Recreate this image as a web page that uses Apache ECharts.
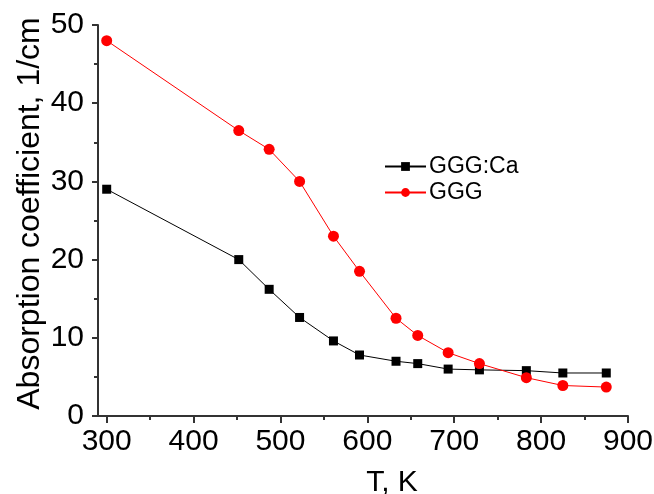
<!DOCTYPE html>
<html>
<head>
<meta charset="utf-8">
<script src="https://cdn.jsdelivr.net/npm/echarts@6/dist/echarts.min.js"></script>
<style>
  html, body { margin: 0; padding: 0; background: #fff; }
  #chart { width: 654px; height: 494px; }
</style>
</head>
<body>
<div id="chart"></div>
<script>
// temperature, K
const temps = [300, 452, 487, 522, 561, 591, 633, 658, 693, 729, 783, 825, 875];
// absorption coefficient, 1/cm
const gggCa = [29.0, 20.0, 16.2, 12.6, 9.6, 7.8, 7.0, 6.7, 6.0, 5.9, 5.8, 5.5, 5.5];
const ggg = [48.0, 36.5, 34.1, 30.0, 23.0, 18.5, 12.5, 10.3, 8.1, 6.7, 4.9, 3.9, 3.7];

const xTicks = [300, 400, 500, 600, 700, 800, 900];
const xMinorTicks = [350, 450, 550, 650, 750, 850];

const font = "Liberation Sans, Arial, sans-serif";
const axisColor = "#333";

const option = {
  backgroundColor: "#fff",
  animation: false,
  textStyle: { fontFamily: font },
  grid: { left: 98, right: 26, top: 25, bottom: 78, outerBoundsMode: "none", containLabel: false },
  legend: {
    left: 379,
    top: 150,
    orient: "vertical",
    itemWidth: 41,
    itemHeight: 11,
    itemGap: 3,
    textStyle: { fontSize: 23, color: "#000", fontFamily: font, padding: [0, 0, 0, -2] },
    data: ["GGG:Ca", "GGG"],
  },
  xAxis: [
    {
      type: "value",
      min: 290,
      max: 900,
      name: "T, K",
      nameLocation: "middle",
      nameGap: 52,
      nameMoveOverlap: false,
      nameTextStyle: { fontSize: 30, color: "#000", padding: [0, 0, 0, 58] },
      splitLine: { show: false },
      axisLine: { lineStyle: { color: axisColor, width: 2 } },
      axisTick: {
        length: 7,
        customValues: xTicks,
        lineStyle: { color: axisColor, width: 2 },
      },
      axisLabel: {
        customValues: xTicks,
        fontSize: 30,
        color: "#000",
        margin: 11,
      },
    },
    {
      // minor ticks only
      type: "value",
      min: 290,
      max: 900,
      position: "bottom",
      splitLine: { show: false },
      axisLine: { show: false },
      axisTick: {
        length: 4,
        customValues: xMinorTicks,
        lineStyle: { color: axisColor, width: 2 },
      },
      axisLabel: { show: false },
    },
  ],
  yAxis: {
    type: "value",
    min: 0,
    max: 50,
    interval: 10,
    name: "Absorption coefficient, 1/cm",
    nameLocation: "middle",
    nameGap: 52,
    nameMoveOverlap: false,
    nameTextStyle: { fontSize: 32, color: "#000", padding: [0, 0, 0, 14] },
    splitLine: { show: false },
    axisLine: { show: true, lineStyle: { color: axisColor, width: 2 } },
    axisTick: { show: true, length: 6, lineStyle: { color: axisColor, width: 2 } },
    minorTick: { show: true, splitNumber: 2, length: 4, lineStyle: { color: axisColor, width: 2 } },
    axisLabel: { fontSize: 30, color: "#000", margin: 14 },
  },
  series: [
    {
      name: "GGG:Ca",
      type: "line",
      data: temps.map((t, i) => [t, gggCa[i]]),
      symbol: "rect",
      symbolSize: 9,
      itemStyle: { color: "#000" },
      lineStyle: { color: "#000", width: 1 },
      z: 2,
    },
    {
      name: "GGG",
      type: "line",
      data: temps.map((t, i) => [t, ggg[i]]),
      symbol: "circle",
      symbolSize: 11,
      itemStyle: { color: "#ff0000" },
      lineStyle: { color: "#ff0000", width: 1 },
      z: 3,
    },
  ],
};

const chart = echarts.init(document.getElementById("chart"));
chart.setOption(option);
</script>
</body>
</html>
